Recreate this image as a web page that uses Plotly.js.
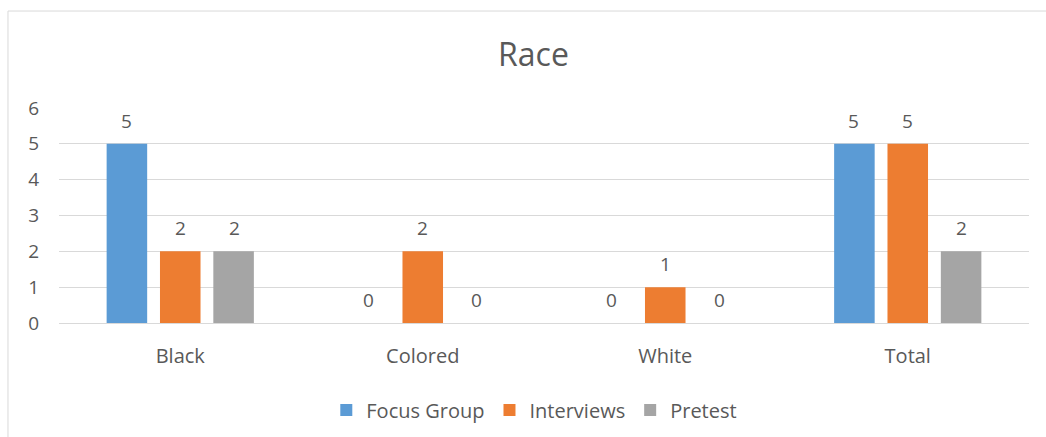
<!DOCTYPE html>
<html><head><meta charset="utf-8">
<script src="https://cdn.plot.ly/plotly-3.0.1.min.js"></script>
<style>html,body{margin:0;padding:0;overflow:hidden;background:#fff}#chart{width:1046px;height:437px}</style>
</head><body><div id="chart"></div>
<script>
const categories = ["Black", "Colored", "White", "Total"];
const seriesNames = ["Focus Group", "Interviews", "Pretest"];
const focusGroup = [5, 0, 0, 5];
const interviews = [2, 2, 1, 5];
const pretest = [2, 0, 0, 2];
const colors = ["#5B9BD5", "#ED7D31", "#A5A5A5"];
const yTicks = [0, 1, 2, 3, 4, 5, 6];

const seriesValues = [focusGroup, interviews, pretest];
const font = "'Open Sans', 'Noto Sans', sans-serif";
const txt = "#595959";

const traces = seriesValues.map((vals, i) => ({
  type: "bar", name: seriesNames[i], x: categories, y: vals,
  marker: {color: colors[i]}, hoverinfo: "none"
}));

const slot = 54;
const annotations = [];
seriesValues.forEach((vals, i) => {
  vals.forEach((v, j) => {
    annotations.push({
      x: categories[j], y: v, xref: "x", yref: "y", text: String(v),
      showarrow: false, xshift: (i - 1) * slot, yshift: 23,
      yanchor: "middle", font: {family: font, size: 19, color: txt}
    });
  });
});

const layout = {
  width: 1046, height: 437,
  margin: {l: 59, r: 17, t: 108, b: 114, autoexpand: false},
  paper_bgcolor: "#fff", plot_bgcolor: "#fff",
  title: {text: "Race", x: 0.51, xanchor: "center", y: 0.874, yanchor: "middle",
          font: {family: font, size: 32, color: txt}},
  barmode: "group", bargap: 0.34, bargroupgap: 0.24,
  font: {family: font, color: txt},
  xaxis: {type: "category", showgrid: false, zeroline: false, showline: false,
          ticks: "outside", ticklen: 15, tickcolor: "rgba(0,0,0,0)",
          tickfont: {family: font, size: 20, color: txt}, fixedrange: true, automargin: false},
  yaxis: {range: [0, 6], tickvals: yTicks, showgrid: true, gridcolor: "#D9D9D9", gridwidth: 1,
          zeroline: true, zerolinecolor: "#D9D9D9", zerolinewidth: 1, showline: false,
          ticks: "outside", ticklen: 15, tickcolor: "rgba(0,0,0,0)",
          tickfont: {family: font, size: 19, color: txt}, fixedrange: true, automargin: false},
  legend: {orientation: "h", x: 0.49, xanchor: "center", y: -0.405, yanchor: "middle",
           font: {family: font, size: 20, color: txt}, itemwidth: 30, traceorder: "normal"},
  annotations: annotations,
  shapes: [{type: "rect", xref: "paper", yref: "paper", x0: -0.0526, x1: 1.2, y0: -1, y1: 1.451,
            line: {color: "#D9D9D9", width: 1}, fillcolor: "rgba(0,0,0,0)", layer: "below"}],
  showlegend: true
};

Plotly.newPlot("chart", traces, layout, {staticPlot: true, displayModeBar: false});
</script></body></html>
